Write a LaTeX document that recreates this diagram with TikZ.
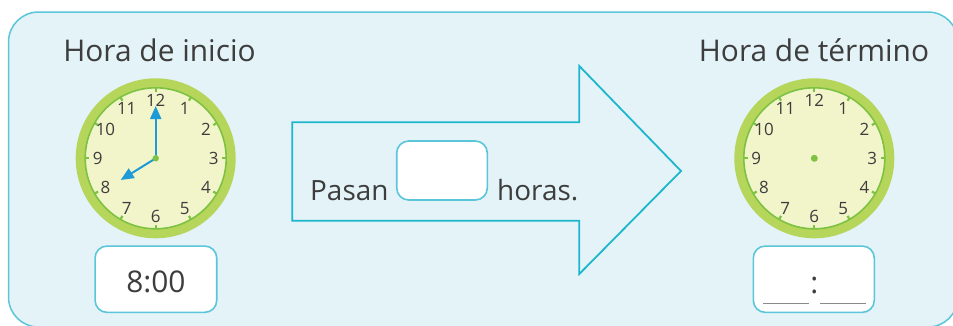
\documentclass[tikz,border=0pt]{standalone}
\usepackage{fontspec}
\setmainfont{Open Sans}
\usetikzlibrary{arrows.meta}
\definecolor{bgfill}{HTML}{E3F3F8}
\definecolor{framec}{HTML}{5BC6D9}
\definecolor{arrowc}{HTML}{1DB6CC}
\definecolor{rim}{HTML}{B6D65B}
\definecolor{face}{HTML}{F2F5C9}
\definecolor{ring}{HTML}{7EC243}
\definecolor{handc}{HTML}{1E9BD7}
\definecolor{txt}{HTML}{3D3D3D}
\definecolor{linec}{HTML}{8A8A8A}
\newcommand\clockdraw[3]{%
  \begin{scope}[shift={(#2,#3)}]
    \node[circle, fill=rim, minimum size=160bp, inner sep=0pt] (#1) at (0,0) {};
    \fill[face] (0,0) circle (70.5bp);
    \draw[ring, line width=1.6bp] (0,0) circle (70.5bp);
    \foreach \h in {1,...,12}{
      \draw[ring, line width=2.2bp] (30*\h-90:71) -- (30*\h-90:66.5);
      \node[numtxt] (#1n\h) at (30*\h-90:58) {\h};
    }
  \end{scope}}
\begin{document}
\begin{tikzpicture}[x=1bp,y=-1bp,
  numtxt/.style={text=txt, inner sep=0pt, font=\fontsize{17}{17}\selectfont},
  bigtxt/.style={text=txt, inner sep=0pt, anchor=base, font=\fontsize{30}{30}\selectfont},
  midtxt/.style={text=txt, inner sep=0pt, anchor=base west, font=\fontsize{28}{28}\selectfont},
  answerbox/.style={draw=framec, fill=white, rounded corners=12bp, line width=1.6bp, inner sep=0pt},
  hand/.style={handc, line width=2bp, -{Triangle[length=13bp,width=11bp]}}]
\useasboundingbox (0,0) rectangle (953,325);
\begin{scope}
  \clip (0,0) rectangle (953,325);
  \draw[framec, fill=bgfill, line width=1.5bp, rounded corners=30bp] (8.5,12) rectangle (958,327);
\end{scope}
% titles
\node[bigtxt] (t1) at (159.5,61.7) {Hora de inicio};
\node[bigtxt] (t2) at (814,61.7) {Hora de término};
% clocks
\clockdraw{c1}{155.7}{158.3}
\clockdraw{c2}{814.3}{158.3}
\coordinate (m1) at (155.7,106);
\coordinate (h1) at (120.7,180);
\draw[hand] (c1.center) -- (m1);
\draw[hand] (c1.center) -- (h1);
\fill[ring] (c1.center) circle (3.2bp);
\fill[ring] (c2.center) circle (3.5bp);
% arrow
\draw[arrowc, line width=1.8bp, line join=miter]
  (292.3,122.3) -- (579.3,122.3) -- (579.3,66) -- (681,171) -- (579.3,274)
  -- (579.3,220.7) -- (292.3,220.7) -- cycle;
\node[midtxt] (pasan) at (310,200) {Pasan};
\node[answerbox, minimum width=90.6bp, minimum height=59bp] (bx) at (442,170.5) {};
\node[midtxt] (horas) at (497,200) {horas.};
% bottom boxes
\node[answerbox, minimum width=121.7bp, minimum height=66.3bp] (b1) at (155.9,279.2) {};
\node[bigtxt] (v1) at (155.9,292.7) {8:00};
\node[answerbox, minimum width=121bp, minimum height=66.3bp] (b2) at (813.8,279.2) {};
\node[text=txt, inner sep=0pt, anchor=base, font=\fontsize{30}{30}\selectfont] (colon) at (814.3,293.5) {:};
\coordinate (u1a) at (763.3,303.3); \coordinate (u1b) at (809,303.3);
\coordinate (u2a) at (820,303.3); \coordinate (u2b) at (866,303.3);
\draw[linec, line width=1.2bp] (u1a) -- (u1b);
\draw[linec, line width=1.2bp] (u2a) -- (u2b);
\end{tikzpicture}
\end{document}
